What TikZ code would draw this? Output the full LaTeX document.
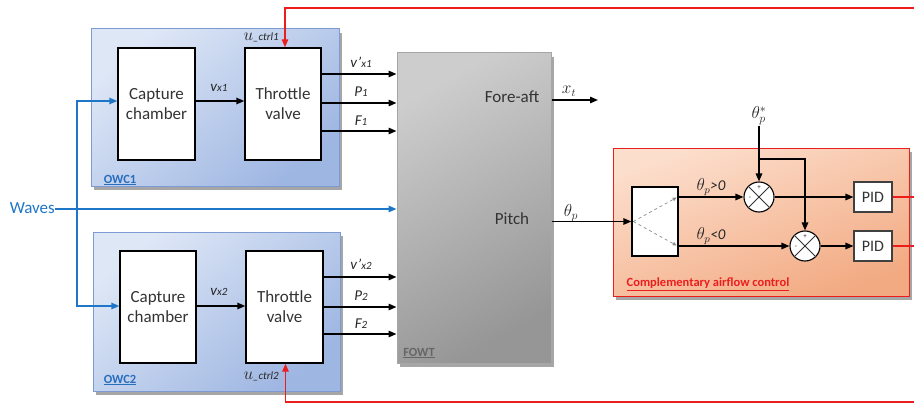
\documentclass[tikz,border=0pt]{standalone}
\usepackage{fontspec}
\setmainfont{Carlito}
\usetikzlibrary{arrows.meta,shadows,calc}
\definecolor{wblue}{RGB}{30,118,200}
\definecolor{owcA}{RGB}{222,231,246}
\definecolor{owcB}{RGB}{158,182,226}
\definecolor{owcborder}{RGB}{125,155,210}
\definecolor{labblue}{RGB}{40,110,190}
\definecolor{ctrlred}{RGB}{235,30,30}
\definecolor{orA}{RGB}{252,222,204}
\definecolor{orB}{RGB}{242,170,130}
\definecolor{fowtA}{RGB}{205,205,205}
\definecolor{fowtB}{RGB}{150,150,150}
\newcommand\sublab[2]{{\fontsize{15}{15}\selectfont\itshape #1{\fontsize{11}{11}\selectfont #2}}}
\begin{document}
\begin{tikzpicture}[x=1pt,y=-1pt,
  arr/.style={line width=1.4pt, -{Triangle[length=8pt,width=6.5pt]}},
  barr/.style={arr, draw=wblue},
  rarr/.style={arr, draw=ctrlred, line width=1.3pt},
  wbox/.style={draw=black, line width=1.4pt, fill=white, inner sep=0pt,
    font=\fontsize{17}{20}\selectfont, align=center, text=black!80},
  shad/.style={drop shadow={shadow xshift=3pt, shadow yshift=-4pt, opacity=0.35, fill=black}},
  owc/.style={draw=owcborder, line width=1pt, top color=owcA, bottom color=owcB, shading angle=40, shad, inner sep=0pt},
  fowtbox/.style={draw=black!35, line width=1pt, top color=fowtA, bottom color=fowtB, shading angle=30, shad, inner sep=0pt},
  cacbox/.style={draw=ctrlred, line width=1pt, top color=orA, bottom color=orB, shading angle=20, shad, inner sep=0pt},
  sumc/.style={circle, draw=black, line width=1.1pt, fill=white, minimum size=30pt, inner sep=0pt},
  pidbox/.style={draw=black!75, line width=1.1pt, fill=white, minimum width=38pt, minimum height=30pt, inner sep=0pt, font=\fontsize{16}{16}\selectfont, text=black!80},
  lab/.style={inner sep=0pt, text=black!85},
  big/.style={lab, font=\fontsize{17}{20}\selectfont, text=black!80},
]
\useasboundingbox (0,0) rectangle (914,404);

% ---------- containers ----------
\node[owc, minimum width=248pt, minimum height=157pt] (owc1) at (215,107.5) {};
\node[owc, minimum width=247pt, minimum height=159pt] (owc2) at (216.5,311.5) {};
\node[fowtbox, minimum width=154pt, minimum height=310pt] (fowt) at (474,208) {};
\node[cacbox, minimum width=296pt, minimum height=148pt] (cac) at (761,222) {};

% ---------- OWC blocks ----------
\node[wbox, minimum width=77pt, minimum height=112pt] (cc1) at (156.5,104) {Capture\\chamber};
\node[wbox, minimum width=76pt, minimum height=112pt] (tv1) at (283,104) {Throttle\\valve};
\node[wbox, minimum width=76pt, minimum height=112pt] (cc2) at (158,307) {Capture\\chamber};
\node[wbox, minimum width=77pt, minimum height=112pt] (tv2) at (284.5,307) {Throttle\\valve};

\node[lab, font=\fontsize{12.5}{12.5}\selectfont\bfseries, text=labblue] (owc1lab) at (120,180) {\underline{OWC1}};
\node[lab, font=\fontsize{12.5}{12.5}\selectfont\bfseries, text=labblue] (owc2lab) at (120,380) {\underline{OWC2}};

\node[lab, anchor=east] (u1) at (279,37) {{\fontsize{16}{16}\selectfont$u$}{\fontsize{11}{11}\selectfont\itshape\_ctrl1}};
\node[lab, anchor=east] (u2) at (279,376) {{\fontsize{16}{16}\selectfont$u$}{\fontsize{11}{11}\selectfont\itshape\_ctrl2}};

% ---------- FOWT ----------
\node[big] (fa) at (512,97) {Fore-aft};
\node[big] (pitch) at (512,219) {Pitch};
\node[lab, font=\fontsize{12.5}{12.5}\selectfont\bfseries, text=black!60] (fowtlab) at (419,353) {\underline{FOWT}};

% ---------- Waves ----------
\node[lab, font=\fontsize{17}{17}\selectfont, text=wblue, anchor=east] (waves) at (55,208) {Waves};
\coordinate (wj) at (77,209);
\draw[barr] (waves.east |- wj) -- (wj -| fowt.west);
\draw[barr] (wj) |- ([yshift=3pt]cc1.west);
\draw[barr] (wj) |- ([yshift=1pt]cc2.west);

% ---------- inner flows ----------
\draw[arr] ([yshift=3pt]cc1.east) -- ([yshift=3pt]tv1.west);
\draw[arr] ([yshift=1pt]cc2.east) -- ([yshift=1pt]tv2.west);
\node[lab] (vx1) at (219,88) {\sublab{v}{x1}};
\node[lab] (vx2) at (219,292) {\sublab{v}{x2}};

% outputs OWC1
\draw[arr] ([yshift=30pt]tv1.east) -- ([yshift=30pt]tv1.east -| fowt.west);
\draw[arr] ([yshift=1pt]tv1.east) -- ([yshift=1pt]tv1.east -| fowt.west);
\draw[arr] ([yshift=-27pt]tv1.east) -- ([yshift=-27pt]tv1.east -| fowt.west);
\node[lab] (l11) at (361,62) {\sublab{v’}{x1}};
\node[lab] (l12) at (361,92) {\sublab{P}{1}};
\node[lab] (l13) at (361,121) {\sublab{F}{1}};
% outputs OWC2
\draw[arr] ([yshift=30pt]tv2.east) -- ([yshift=30pt]tv2.east -| fowt.west);
\draw[arr] (tv2.east) -- (tv2.east -| fowt.west);
\draw[arr] ([yshift=-27pt]tv2.east) -- ([yshift=-27pt]tv2.east -| fowt.west);
\node[lab] (l21) at (361,264) {\sublab{v’}{x2}};
\node[lab] (l22) at (361,296) {\sublab{P}{2}};
\node[lab] (l23) at (361,324) {\sublab{F}{2}};

% ---------- control red lines ----------
\coordinate (rtop) at (914,8);
\coordinate (rbot) at (914,402);
\draw[rarr] (rtop) -| ([xshift=2pt]tv1.north);
\draw[rarr] (rbot) -| ([xshift=1pt]tv2.south);

% ---------- FOWT outputs ----------
\coordinate (xtend) at (598,100);
\draw[arr] (fowt.east |- xtend) -- (xtend);
\node[lab, font=\fontsize{16}{16}\selectfont] (xt) at (569,91) {$x_t$};

% ---------- complementary control ----------
\node[draw=black, line width=1.3pt, fill=white, minimum width=46pt, minimum height=69pt, inner sep=0pt] (sw) at (655,221.5) {};
\draw[arr] (sw.west -| fowt.east) -- (sw.west);
\node[lab, font=\fontsize{17}{17}\selectfont] (thp) at (571,213) {$\theta_p$};
\draw[black!45, dashed, line width=0.7pt, -{Triangle[length=4pt,width=3.5pt]}] ([xshift=2pt]sw.west) -- ([xshift=-2pt,yshift=24pt]sw.east);
\draw[black!45, dashed, line width=0.7pt, -{Triangle[length=4pt,width=3.5pt]}] ([xshift=2pt]sw.west) -- ([xshift=-2pt,yshift=-24pt]sw.east);

\node[sumc] (s1) at (759,197) {};
\node[sumc] (s2) at (805,246) {};
\foreach \s in {s1,s2}{
  \draw[line width=0.9pt, black!80] (\s.north east) -- (\s.south west);
  \draw[line width=0.9pt, black!80] (\s.north west) -- (\s.south east);
  \node[lab, font=\fontsize{7}{7}\selectfont] at ($(\s.center)+(0,-9)$) {+};
  \node[lab, font=\fontsize{7}{7}\selectfont] at ($(\s.center)+(-9,1)$) {-};
}
\node[pidbox] (pid1) at (873,197) {PID};
\node[pidbox] (pid2) at (873,246) {PID};

\draw[arr] ([yshift=24.5pt]sw.east) -- (s1.west);
\draw[arr] ([yshift=-24.5pt]sw.east) -- (s2.west);
\node[lab] (gt) at (711,187) {{\fontsize{16}{16}\selectfont$\theta_p$}{\fontsize{15}{15}\selectfont\itshape >0}};
\node[lab] (lt) at (711,236) {{\fontsize{16}{16}\selectfont$\theta_p$}{\fontsize{15}{15}\selectfont\itshape <0}};

\node[lab, font=\fontsize{17}{17}\selectfont] (ref) at (759,116) {$\theta_p^{*}$};
\coordinate (bj) at (759,159);
\draw[arr] (ref.south) -- (s1.north);
\draw[arr] (bj) -| (s2.north);

\draw[arr] (s1.east) -- (pid1.west);
\draw[arr] (s2.east) -- (pid2.west);

\coordinate (o1) at (914,197);
\coordinate (o2) at (914,246);
\draw[ctrlred, line width=1.2pt] (pid1.east) -- (o1);
\draw[ctrlred, line width=1.2pt] (pid2.east) -- (o2);

\node[lab, font=\fontsize{12.5}{12.5}\selectfont\bfseries, text=ctrlred] (caclab) at (708,284) {\underline{Complementary airflow control}};
\end{tikzpicture}
\end{document}
